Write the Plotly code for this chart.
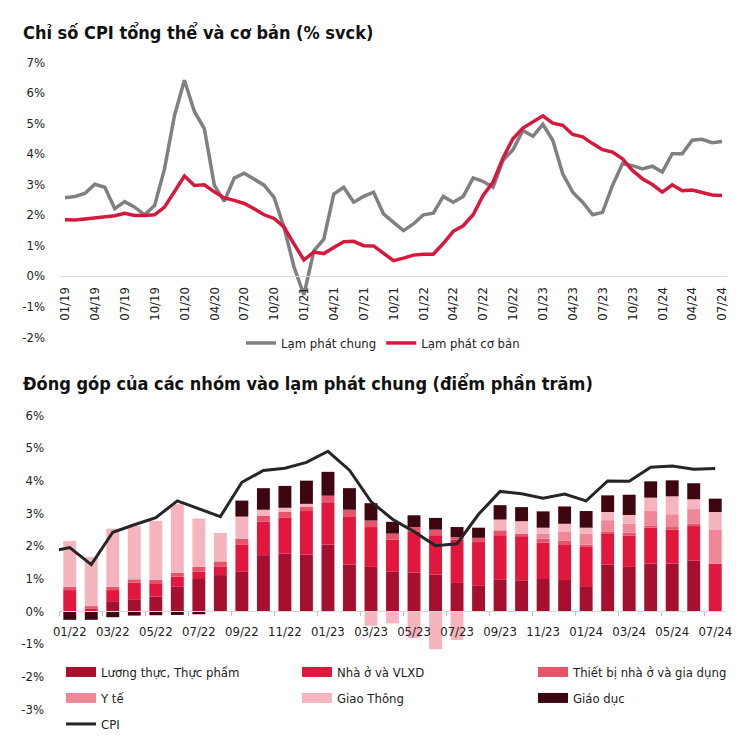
import plotly.graph_objects as go

# page body has an 8px default margin, so the figure is drawn 8px in from the window edge
PAGE_OFF = 8
W, H = 753 - PAGE_OFF, 744 - PAGE_OFF
FONT = "Liberation Sans Narrow, Arial Narrow, DejaVu Sans Condensed, sans-serif"

# ---------------- Top chart data (01/19 .. 07/24, monthly) ----------------
top_tick_labels = ["01/19", "04/19", "07/19", "10/19", "01/20", "04/20", "07/20", "10/20",
                   "01/21", "04/21", "07/21", "10/21", "01/22", "04/22", "07/22", "10/22",
                   "01/23", "04/23", "07/23", "10/23", "01/24", "04/24", "07/24"]

cpi_headline = [2.56, 2.60, 2.70, 3.00, 2.90, 2.20, 2.43, 2.25, 2.00, 2.30, 3.50, 5.25,
                6.40, 5.38, 4.82, 2.97, 2.44, 3.20, 3.36, 3.16, 2.97, 2.57, 1.59, 0.30,
                -0.62, 0.82, 1.20, 2.68, 2.90, 2.41, 2.60, 2.74, 2.03, 1.75, 1.48, 1.70,
                2.00, 2.05, 2.60, 2.41, 2.60, 3.21, 3.09, 2.90, 3.78, 4.13, 4.76, 4.57,
                4.96, 4.44, 3.34, 2.74, 2.41, 2.00, 2.08, 2.96, 3.67, 3.61, 3.50, 3.59,
                3.40, 4.00, 4.00, 4.44, 4.47, 4.36, 4.40]

cpi_core = [1.84, 1.83, 1.86, 1.90, 1.93, 1.97, 2.05, 1.98, 1.98, 2.00, 2.25, 2.75,
            3.27, 2.96, 2.98, 2.75, 2.55, 2.47, 2.37, 2.20, 2.00, 1.88, 1.60, 1.05,
            0.52, 0.78, 0.73, 0.93, 1.12, 1.13, 0.99, 0.98, 0.75, 0.50, 0.58, 0.68,
            0.71, 0.71, 1.06, 1.46, 1.64, 2.00, 2.63, 3.07, 3.86, 4.49, 4.84, 5.04,
            5.24, 5.00, 4.93, 4.63, 4.55, 4.33, 4.13, 4.05, 3.83, 3.45, 3.18, 2.99,
            2.74, 2.98, 2.79, 2.81, 2.72, 2.65, 2.63]

top_y_ticks = [-2, -1, 0, 1, 2, 3, 4, 5, 6, 7]

# ---------------- Bottom chart data (01/22 .. 07/24, monthly) ----------------
bottom_tick_labels = ["01/22", "03/22", "05/22", "07/22", "09/22", "11/22", "01/23", "03/23",
                      "05/23", "07/23", "09/23", "11/23", "01/24", "03/24", "05/24", "07/24"]

luong_thuc = [0.00, 0.00, 0.30, 0.34, 0.44, 0.74, 0.98, 1.10, 1.20, 1.71, 1.76, 1.73,
              2.03, 1.42, 1.35, 1.20, 1.18, 1.12, 0.86, 0.77, 0.97, 0.94, 0.98, 0.95,
              0.76, 1.42, 1.35, 1.45, 1.45, 1.54, 0.00]
nha_o = [0.64, 0.08, 0.34, 0.53, 0.41, 0.31, 0.22, 0.25, 0.84, 1.02, 1.09, 1.33,
         1.30, 1.48, 1.22, 0.99, 1.24, 1.20, 1.32, 1.34, 1.35, 1.35, 1.11, 1.07,
         1.20, 0.95, 0.95, 1.10, 1.04, 1.06, 1.45]
thiet_bi = [0.10, 0.07, 0.10, 0.10, 0.10, 0.12, 0.15, 0.17, 0.17, 0.18, 0.18, 0.14,
            0.20, 0.20, 0.20, 0.18, 0.15, 0.17, 0.08, 0.13, 0.15, 0.08, 0.13, 0.13,
            0.07, 0.05, 0.10, 0.07, 0.08, 0.08, 0.00]
y_te = [0.00, 0.00, 0.00, 0.00, 0.00, 0.00, 0.00, 0.00, 0.00, 0.00, 0.00, 0.00,
        0.00, 0.00, 0.00, 0.00, 0.00, 0.00, 0.00, 0.00, 0.00, 0.00, 0.15, 0.27,
        0.34, 0.36, 0.27, 0.44, 0.39, 0.44, 1.05]
giao_thong = [1.40, 1.50, 1.78, 1.63, 1.81, 2.10, 1.48, 0.87, 0.68, 0.19, 0.13, 0.08,
              0.00, 0.00, -0.45, -0.38, -0.83, -1.17, -0.89, 0.00, 0.33, 0.38, 0.18, 0.25,
              0.18, 0.25, 0.27, 0.41, 0.55, 0.30, 0.53]
giao_duc = [-0.27, -0.27, -0.19, -0.14, -0.13, -0.12, -0.10, -0.03, 0.49, 0.66, 0.67, 0.71,
            0.73, 0.66, 0.53, 0.36, 0.36, 0.36, 0.31, 0.31, 0.44, 0.43, 0.50, 0.53,
            0.51, 0.51, 0.62, 0.50, 0.49, 0.49, 0.41]
# CPI line starts one month earlier (12/21)
cpi_line = [1.81, 1.94, 1.42, 2.41, 2.64, 2.86, 3.37, 3.14, 2.89, 3.94, 4.30, 4.37, 4.55,
            4.89, 4.31, 3.35, 2.81, 2.43, 2.00, 2.06, 2.96, 3.66, 3.59, 3.45, 3.58,
            3.37, 3.98, 3.97, 4.40, 4.44, 4.34, 4.36]

bottom_y_ticks = [-3, -2, -1, 0, 1, 2, 3, 4, 5, 6]

group_names = ["Lương thực, Thực phẩm", "Nhà ở và VLXD", "Thiết bị nhà ở và gia dụng",
               "Y tế", "Giao Thông", "Giáo dục"]
group_colors = ["#A6102E", "#E2173D", "#E5546B", "#EF8796", "#F5B4BE", "#3D0611"]
group_values = [luong_thuc, nha_o, thiet_bi, y_te, giao_thong, giao_duc]


# ---------------- Layout geometry (window pixel -> paper fraction) ----------------
def fx(px):
    return (px - PAGE_OFF) / W


def fy(py):
    return 1 - (py - PAGE_OFF) / H


top_dom = [fy(337), fy(62)]
bot_dom = [fy(709), fy(415)]
top_zero = top_dom[0] + (0 - top_y_ticks[0]) / (top_y_ticks[-1] - top_y_ticks[0]) * (top_dom[1] - top_dom[0])
bot_zero = bot_dom[0] + (0 - bottom_y_ticks[0]) / (bottom_y_ticks[-1] - bottom_y_ticks[0]) * (bot_dom[1] - bot_dom[0])

fig = go.Figure()

n_top = len(cpi_headline)
x_top = list(range(n_top))
fig.add_trace(go.Scatter(x=x_top, y=cpi_headline, mode="lines", name="Lạm phát chung",
                         line=dict(color="#808080", width=3.5), xaxis="x", yaxis="y",
                         legend="legend"))
fig.add_trace(go.Scatter(x=x_top, y=cpi_core, mode="lines", name="Lạm phát cơ bản",
                         line=dict(color="#D8173D", width=3.5), xaxis="x", yaxis="y",
                         legend="legend"))

n_bot = len(luong_thuc)
x_bot = list(range(n_bot))
for name, color, vals in zip(group_names, group_colors, group_values):
    fig.add_trace(go.Bar(x=x_bot, y=vals, marker=dict(color=color, line=dict(width=0)),
                         width=0.6, xaxis="x2", yaxis="y2", showlegend=False, name=name))
x_cpi = list(range(-1, n_bot))
fig.add_trace(go.Scatter(x=x_cpi, y=cpi_line, mode="lines", line=dict(color="#262626", width=3),
                         xaxis="x2", yaxis="y2", showlegend=False, name="CPI"))

# legend entries for bottom chart (wide swatches), one legend per row
legend_rows = ["legend2", "legend2", "legend2", "legend3", "legend3", "legend3"]
for name, color, lg in zip(group_names, group_colors, legend_rows):
    fig.add_trace(go.Scatter(x=[None], y=[None], mode="lines", name=name,
                             line=dict(color=color, width=10), xaxis="x2", yaxis="y2",
                             legend=lg))
fig.add_trace(go.Scatter(x=[None], y=[None], mode="lines", name="CPI",
                         line=dict(color="#262626", width=3), xaxis="x2", yaxis="y2",
                         legend="legend4"))

axis_font = dict(family=FONT, size=13, color="#222222")
leg_font = dict(family=FONT, size=13, color="#222222")


def row_legend(ypx):
    return dict(orientation="h", x=fx(61), xanchor="left", y=fy(ypx), yanchor="middle",
                font=leg_font, bgcolor="rgba(0,0,0,0)",
                entrywidth=191, entrywidthmode="pixels", traceorder="normal")


fig.update_layout(
    width=W, height=H,
    margin=dict(l=0, r=0, t=0, b=0, autoexpand=False),
    paper_bgcolor="white", plot_bgcolor="white",
    font=dict(family=FONT, size=13, color="#222222"),
    barmode="relative",
    hovermode=False,
    xaxis=dict(domain=[fx(60), fx(727)], range=[-0.5, n_top - 0.5], anchor="free",
               position=top_zero, showgrid=False, zeroline=False, showline=True,
               linecolor="#D9D9D9", linewidth=1, ticks="", automargin=False,
               tickvals=list(range(0, n_top, 3)), ticktext=top_tick_labels,
               tickangle=-90, tickfont=axis_font, ticklabelstandoff=5),
    yaxis=dict(domain=top_dom, range=[top_y_ticks[0], top_y_ticks[-1]], anchor="x",
               showgrid=False, zeroline=False, showline=False, ticks="", automargin=False,
               tickvals=top_y_ticks, ticktext=[f"{v}%" for v in top_y_ticks],
               tickfont=axis_font, ticklabelstandoff=14),
    xaxis2=dict(domain=[fx(59), fx(726)], range=[-0.5, n_bot - 0.5], anchor="free",
                position=bot_zero, showgrid=False, zeroline=False, showline=True,
                linecolor="#D9D9D9", linewidth=1, ticks="", automargin=False,
                tickvals=list(range(0, n_bot, 2)), ticktext=bottom_tick_labels,
                tickangle=0, tickfont=dict(family=FONT, size=13, color="#222222"),
                ticklabelstandoff=8,
                minor=dict(ticks="outside", tick0=1.5, dtick=2, ticklen=4,
                           tickcolor="#BFBFBF", tickwidth=1)),
    yaxis2=dict(domain=bot_dom, range=[bottom_y_ticks[0], bottom_y_ticks[-1]], anchor="x2",
                showgrid=False, zeroline=False, showline=False, ticks="", automargin=False,
                tickvals=bottom_y_ticks, ticktext=[f"{v}%" for v in bottom_y_ticks],
                tickfont=axis_font, ticklabelstandoff=14),
    legend=dict(orientation="h", x=fx(383), xanchor="center", y=fy(343), yanchor="middle",
                font=leg_font, bgcolor="rgba(0,0,0,0)"),
    legend2=row_legend(672),
    legend3=row_legend(698),
    legend4=row_legend(724),
    annotations=[
        dict(text="<b>Chỉ số CPI tổng thể và cơ bản (% svck)</b>", x=fx(21), y=fy(32),
             xref="paper", yref="paper", xanchor="left", yanchor="middle", showarrow=False,
             font=dict(family=FONT, size=18, color="#111111")),
        dict(text="<b>Đóng góp của các nhóm vào lạm phát chung (điểm phần trăm)</b>",
             x=fx(21), y=fy(383), xref="paper", yref="paper", xanchor="left",
             yanchor="middle", showarrow=False,
             font=dict(family=FONT, size=18, color="#111111")),
    ],
)

fig.write_html("out.html")
